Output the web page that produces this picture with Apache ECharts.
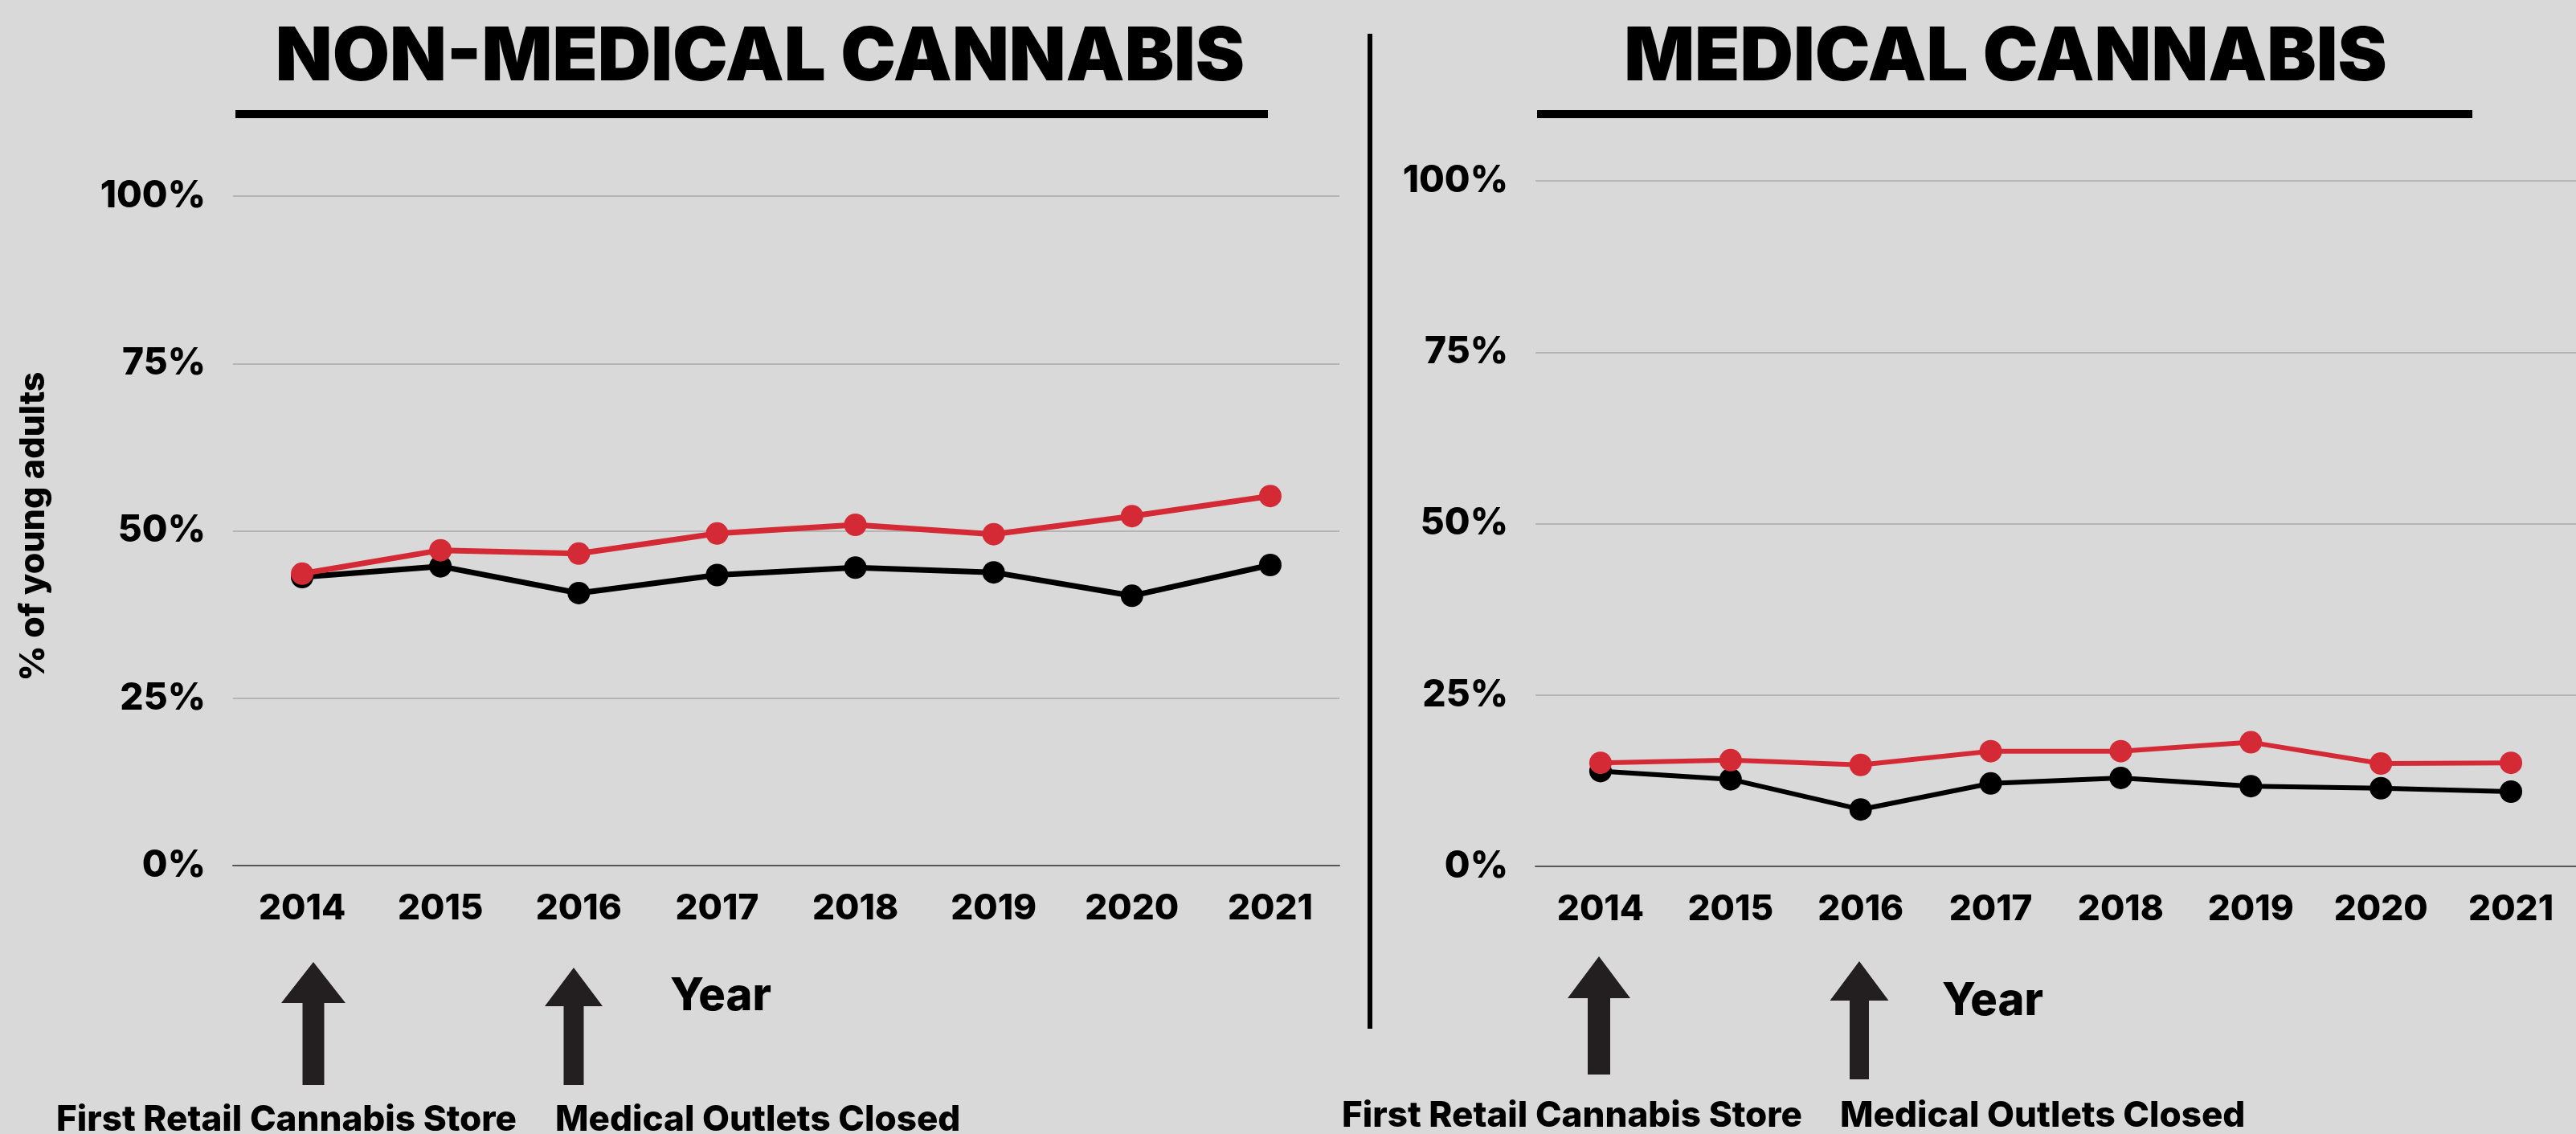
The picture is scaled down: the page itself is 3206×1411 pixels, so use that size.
<!DOCTYPE html>
<html>
<head>
<meta charset="utf-8">
<script src="https://cdn.jsdelivr.net/npm/echarts@6/dist/echarts.min.js"></script>
<style>
html,body{margin:0;padding:0;background:#d9d9d9;}
#chart{width:3206px;height:1411px;}
</style>
</head>
<body>
<div id="chart"></div>
<script>
// ---- data ----
const years = ['2014', '2015', '2016', '2017', '2018', '2019', '2020', '2021'];
const nonMedicalBlack = [43.1, 44.7, 40.7, 43.4, 44.5, 43.8, 40.3, 44.9];
const nonMedicalRed   = [43.6, 47.1, 46.6, 49.6, 50.9, 49.5, 52.2, 55.2];
const medicalBlack    = [13.9, 12.7, 8.3, 12.1, 12.9, 11.7, 11.4, 10.9];
const medicalRed      = [15.1, 15.5, 14.8, 16.8, 16.8, 18.1, 15.0, 15.1];
const yMin = 0, yMax = 100, yStep = 25;
const titles = ['NON-MEDICAL CANNABIS', 'MEDICAL CANNABIS'];
const yAxisTitle = '% of young adults';
const xAxisTitle = 'Year';
const notes = ['First Retail Cannabis Store', 'Medical Outlets Closed'];

// ---- styling ----
const FONT = 'Inter, "Noto Sans", sans-serif';
const RED = '#d42a35';
const BLACK = '#000000';
const ARROW = '#231f20';

const chart = echarts.init(document.getElementById('chart'), null, {renderer: 'canvas'});

function xAxisFor(gridIndex) {
  return {
    type: 'category', gridIndex, data: years, boundaryGap: true,
    axisLine: {show: true, lineStyle: {color: '#575757', width: 2}},
    axisTick: {show: false},
    axisLabel: {color: '#000', fontFamily: FONT, fontWeight: 800, fontSize: 44, margin: 32}
  };
}
function yAxisFor(gridIndex) {
  return {
    type: 'value', gridIndex, min: yMin, max: yMax, interval: yStep,
    axisLine: {show: false}, axisTick: {show: false},
    splitLine: {show: true, lineStyle: {color: '#a8a8a8', width: 1.5}},
    axisLabel: {formatter: '{value}%', color: '#000', fontFamily: FONT, fontWeight: 800, fontSize: 46, margin: 34}
  };
}
function lineSeries(idx, data, color, width) {
  return {
    type: 'line', xAxisIndex: idx, yAxisIndex: idx, data,
    symbol: 'circle', symbolSize: 28, showSymbol: true,
    lineStyle: {color, width}, itemStyle: {color},
    emphasis: {disabled: true}, animation: false
  };
}
function arrow(cx, top, headBase, bottom, headHalf, shaftHalf) {
  return {
    type: 'polygon',
    shape: {points: [
      [cx, top], [cx + headHalf, headBase], [cx + shaftHalf, headBase], [cx + shaftHalf, bottom],
      [cx - shaftHalf, bottom], [cx - shaftHalf, headBase], [cx - headHalf, headBase]
    ]},
    style: {fill: ARROW}
  };
}
function txt(x, y, text, size, weight, align, vAlign, rotation) {
  const o = {
    type: 'text', x, y,
    style: {text, fill: '#000', font: weight + ' ' + size + 'px ' + FONT, textAlign: align, textVerticalAlign: vAlign}
  };
  if (rotation) o.rotation = rotation;
  return o;
}

const option = {
  backgroundColor: '#d9d9d9',
  animation: false,
  grid: [
    {left: 290, right: 1539, top: 244, bottom: 334},
    {left: 1911, right: 0, top: 225, bottom: 333}
  ],
  xAxis: [xAxisFor(0), xAxisFor(1)],
  yAxis: [yAxisFor(0), yAxisFor(1)],
  series: [
    lineSeries(0, nonMedicalBlack, BLACK, 7),
    lineSeries(0, nonMedicalRed, RED, 7),
    lineSeries(1, medicalBlack, BLACK, 6),
    lineSeries(1, medicalRed, RED, 6)
  ],
  graphic: [
    txt(946, 72, titles[0], 92, 900, 'center', 'middle'),
    txt(2496, 72, titles[1], 92, 900, 'center', 'middle'),
    {type: 'rect', shape: {x: 293, y: 137, width: 1285, height: 10}, style: {fill: '#000'}},
    {type: 'rect', shape: {x: 1913, y: 137, width: 1164, height: 10}, style: {fill: '#000'}},
    {type: 'rect', shape: {x: 1702, y: 42, width: 6, height: 1238}, style: {fill: '#000'}},
    txt(42, 655, yAxisTitle, 43, 800, 'center', 'middle', Math.PI / 2),
    txt(897, 1240, xAxisTitle, 56, 800, 'center', 'middle'),
    txt(2480, 1246, xAxisTitle, 56, 800, 'center', 'middle'),
    arrow(390, 1197, 1248, 1350, 40, 13.5),
    arrow(714, 1204, 1252, 1350, 36, 12.5),
    arrow(1990, 1190, 1242, 1337, 39, 14),
    arrow(2314, 1196, 1245, 1343, 36.5, 12),
    txt(70, 1372, notes[0], 44, 800, 'left', 'top'),
    txt(691, 1372, notes[1], 44, 800, 'left', 'top'),
    txt(1670, 1367, notes[0], 44, 800, 'left', 'top'),
    txt(2290, 1367, notes[1], 44, 800, 'left', 'top')
  ]
};
chart.setOption(option);
</script>
</body>
</html>
